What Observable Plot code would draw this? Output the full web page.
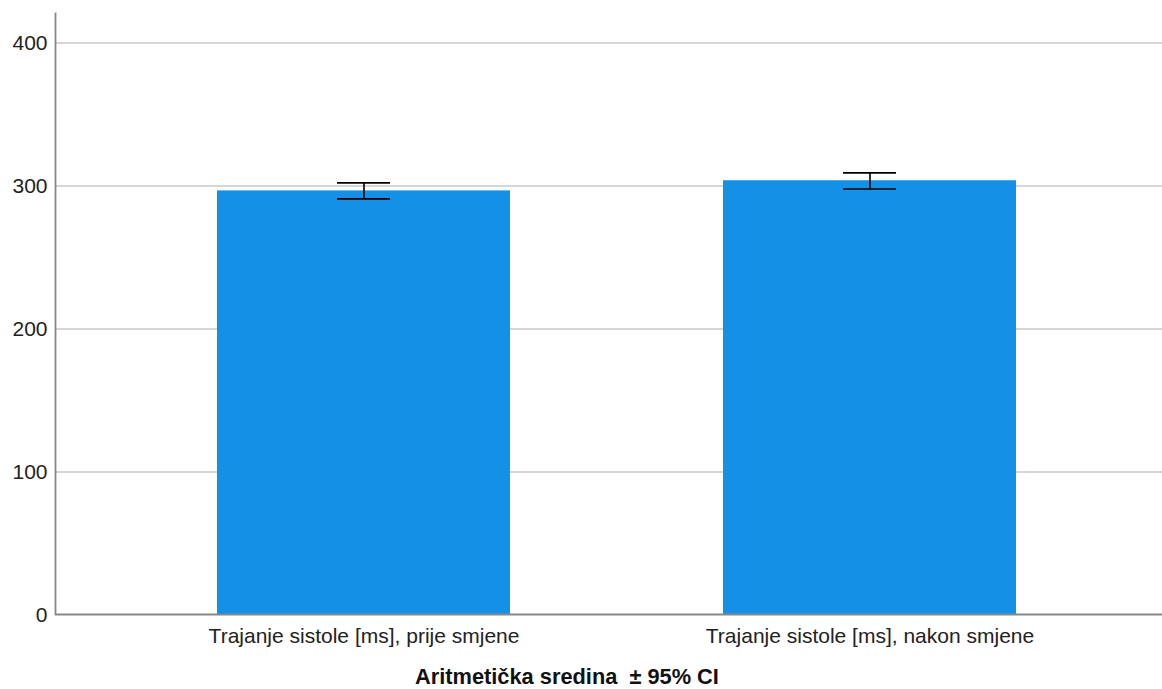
<!DOCTYPE html>
<html>
<head>
<meta charset="utf-8">
<script src="https://cdn.jsdelivr.net/npm/d3@7"></script>
<script src="https://cdn.jsdelivr.net/npm/@observablehq/plot@0.6"></script>
<style>
  html, body { margin: 0; padding: 0; background: #fff; overflow: hidden; }
  #chart svg { display: block; }
  #caption { font-family: "Liberation Sans", Arial, sans-serif; font-size: 21.8px; font-weight: bold; color: #111; position: absolute; left: 415px; top: 666px; white-space: pre; line-height: 1; }
</style>
</head>
<body>
<div id="chart"></div>
<div id="caption">Aritmetička sredina  ± 95% CI</div>
<script>
const categories = ["Trajanje sistole [ms], prije smjene", "Trajanje sistole [ms], nakon smjene"];
const means = [296.6, 303.7];
const ciLow = [291.0, 297.9];
const ciHigh = [302.2, 309.2];
const yTicks = [0, 100, 200, 300, 400];

const data = categories.map((c, i) => ({cat: c, mean: means[i], lo: ciLow[i], hi: ciHigh[i]}));

const font = "'Liberation Sans', Arial, sans-serif";
const chart = Plot.plot({
  width: 1162,
  height: 655,
  marginLeft: 56,
  marginRight: 0,
  marginTop: 12,
  marginBottom: 40,
  style: {fontFamily: font, fontSize: "21px", color: "#222", background: "#fff"},
  x: {domain: categories, range: [56, 1177], paddingInner: 0.421, paddingOuter: 0.318, label: null},
  y: {domain: [0, 421], range: [614.5, 12.5], label: null},
  marks: [
    Plot.ruleY(yTicks.filter(d => d > 0), {stroke: "#c8c8c8", strokeWidth: 1.5}),
    Plot.barY(data, {x: "cat", y: "mean", fill: "#1490e6"}),
    Plot.ruleX(data, {x: "cat", y1: "lo", y2: "hi", stroke: "#000", strokeWidth: 1.6}),
    Plot.tickY(data, {x: "cat", y: "lo", stroke: "#000", strokeWidth: 1.6, insetLeft: 120, insetRight: 120}),
    Plot.tickY(data, {x: "cat", y: "hi", stroke: "#000", strokeWidth: 1.6, insetLeft: 120, insetRight: 120}),
    Plot.axisY({ticks: yTicks, tickSize: 0, tickPadding: 9, fontSize: 21, label: null, fill: "#222"}),
    Plot.axisX({tickSize: 0, tickPadding: 13, fontSize: 21, label: null, fill: "#222"})
  ]
});
document.getElementById("chart").appendChild(chart);
// axis frame lines drawn on the plot's own y scale
const sy = chart.scale("y");
const svg = d3.select(chart);
svg.append("line").attr("x1", 55.5).attr("x2", 55.5).attr("y1", sy.apply(421)).attr("y2", sy.apply(0) + 0.5).attr("stroke", "#888").attr("stroke-width", 1.8);
svg.append("line").attr("x1", 55).attr("x2", 1162).attr("y1", sy.apply(0)).attr("y2", sy.apply(0)).attr("stroke", "#888").attr("stroke-width", 1.8);
</script>
</body>
</html>
